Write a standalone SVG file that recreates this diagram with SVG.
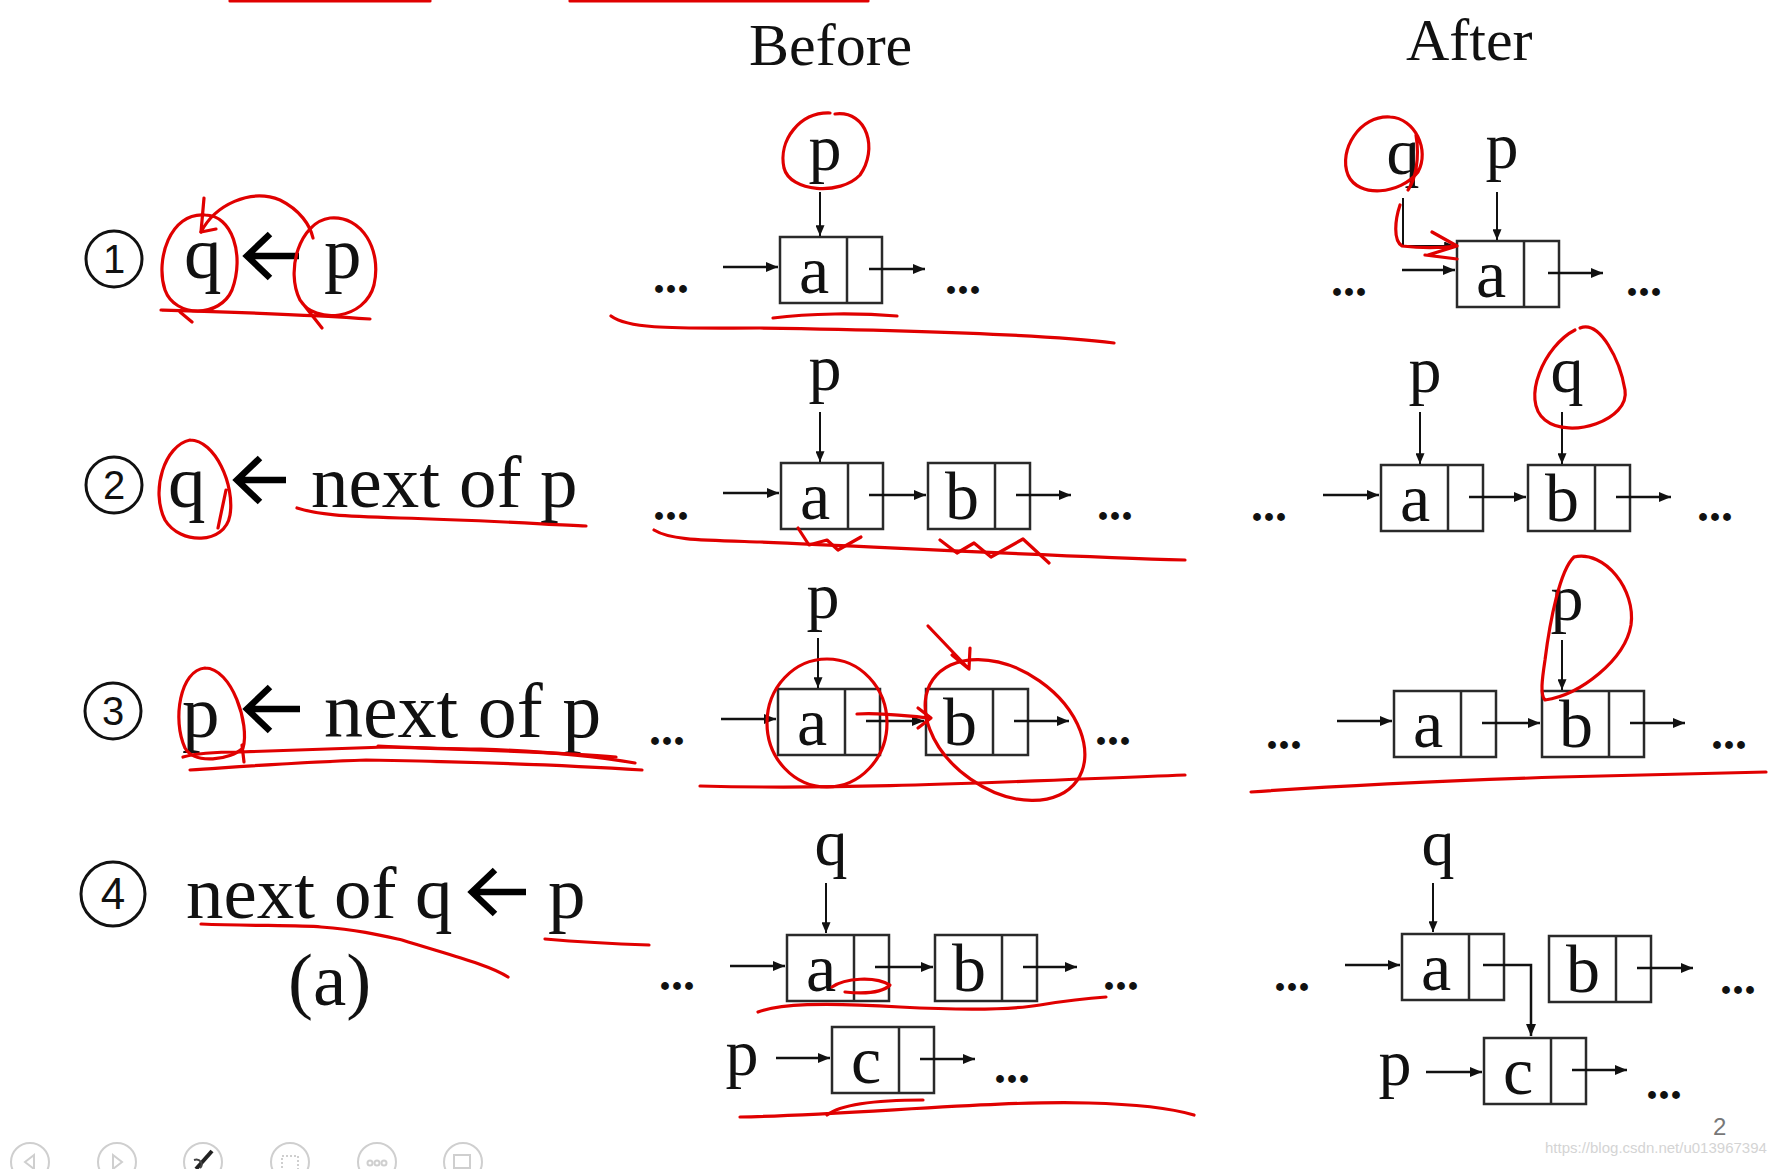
<svg xmlns="http://www.w3.org/2000/svg" width="1792" height="1169" viewBox="0 0 1792 1169">
<defs>
<style>
text{font-family:"Liberation Serif","Times New Roman",serif;fill:#111}
.h{font-size:60px}
.lbl{font-size:66px;text-anchor:middle}
.nd{font-size:68px;text-anchor:middle}
.st{font-size:75px}
.dots{font-size:48px;font-weight:bold}
.cd{font-family:"Liberation Sans",Arial,sans-serif;font-size:40px;text-anchor:middle}
.node rect{fill:none;stroke:#2a2a2a;stroke-width:2.5}
.node line{stroke:#2a2a2a;stroke-width:2.5}
.cn{fill:none;stroke:#111;stroke-width:2.5;marker-end:url(#ah)}
.cv{fill:none;stroke:#111;stroke-width:2;marker-end:url(#ahs)}
.ci{fill:none;stroke:#111;stroke-width:3}
.la{fill:none;stroke:#000;stroke-width:6.5;stroke-linecap:butt}
.red{fill:none;stroke:#e00000;stroke-width:3.2;stroke-linecap:round;stroke-linejoin:round}
.tb{fill:none;stroke:#cfcfcf;stroke-width:2}
</style>
<marker id="ah" viewBox="0 0 12 10" refX="12" refY="5" markerWidth="12" markerHeight="10" markerUnits="userSpaceOnUse" orient="auto"><path d="M0,0 L12,5 L0,10 z" fill="#111"/></marker>
<marker id="ahs" viewBox="0 0 12 10" refX="12" refY="5" markerWidth="11" markerHeight="9" markerUnits="userSpaceOnUse" orient="auto"><path d="M0,0 L12,5 L0,10 z" fill="#111"/></marker>
</defs>
<rect width="1792" height="1169" fill="#fff"/>

<!-- headers -->
<text class="h" x="749" y="65">Before</text>
<text class="h" x="1406" y="60">After</text>

<!-- left statements -->
<g id="stmt1">
<circle class="ci" cx="114" cy="259" r="28"/><text class="cd" x="114" y="273">1</text>
<text class="st" x="184" y="278">q</text>
<path class="la" d="M299,256 H250 M270,234 L247,256 L270,278"/>
<text class="st" x="324" y="278">p</text>
</g>
<g id="stmt2">
<circle class="ci" cx="114" cy="485" r="28"/><text class="cd" x="114" y="499">2</text>
<text class="st" x="168" y="507">q</text>
<path class="la" d="M286,480 H240 M260,458 L237,480 L260,502"/>
<text class="st" x="311" y="507">next of p</text>
</g>
<g id="stmt3">
<circle class="ci" cx="113" cy="711" r="28"/><text class="cd" x="113" y="725">3</text>
<text class="st" x="182" y="737">p</text>
<path class="la" d="M300,709 H250 M270,687 L247,709 L270,731"/>
<text class="st" x="324" y="737" style="font-size:78px">next of p</text>
</g>
<g id="stmt4">
<circle class="ci" cx="113" cy="894" r="32"/><text class="cd" x="113" y="909" style="font-size:44px">4</text>
<text class="st" x="186" y="918">next of q</text>
<path class="la" d="M526,892 H475 M495,870 L472,892 L495,914"/>
<text class="st" x="548" y="918">p</text>
<text class="st" x="288" y="1005">(a)</text>
</g>

<!-- nodes -->
<g id="r1b-a" class="node"><rect x="780" y="237" width="102" height="66"/><line x1="847" y1="237" x2="847" y2="303"/><text class="nd" x="814" y="293">a</text></g>
<g id="r1a-a" class="node"><rect x="1457" y="241" width="102" height="66"/><line x1="1524" y1="241" x2="1524" y2="307"/><text class="nd" x="1491" y="297">a</text></g>

<g id="r2b-a" class="node"><rect x="781" y="463" width="102" height="66"/><line x1="848" y1="463" x2="848" y2="529"/><text class="nd" x="815" y="519">a</text></g>
<g id="r2b-b" class="node"><rect x="928" y="463" width="102" height="66"/><line x1="995" y1="463" x2="995" y2="529"/><text class="nd" x="962" y="519">b</text></g>
<g id="r2a-a" class="node"><rect x="1381" y="465" width="102" height="66"/><line x1="1448" y1="465" x2="1448" y2="531"/><text class="nd" x="1415" y="521">a</text></g>
<g id="r2a-b" class="node"><rect x="1528" y="465" width="102" height="66"/><line x1="1595" y1="465" x2="1595" y2="531"/><text class="nd" x="1562" y="521">b</text></g>

<g id="r3b-a" class="node"><rect x="778" y="689" width="102" height="66"/><line x1="845" y1="689" x2="845" y2="755"/><text class="nd" x="812" y="745">a</text></g>
<g id="r3b-b" class="node"><rect x="926" y="689" width="102" height="66"/><line x1="993" y1="689" x2="993" y2="755"/><text class="nd" x="960" y="745">b</text></g>
<g id="r3a-a" class="node"><rect x="1394" y="691" width="102" height="66"/><line x1="1461" y1="691" x2="1461" y2="757"/><text class="nd" x="1428" y="747">a</text></g>
<g id="r3a-b" class="node"><rect x="1542" y="691" width="102" height="66"/><line x1="1609" y1="691" x2="1609" y2="757"/><text class="nd" x="1576" y="747">b</text></g>

<g id="r4b-a" class="node"><rect x="787" y="935" width="102" height="66"/><line x1="854" y1="935" x2="854" y2="1001"/><text class="nd" x="821" y="991">a</text></g>
<g id="r4b-b" class="node"><rect x="935" y="935" width="102" height="66"/><line x1="1002" y1="935" x2="1002" y2="1001"/><text class="nd" x="969" y="991">b</text></g>
<g id="r4b-c" class="node"><rect x="832" y="1027" width="102" height="66"/><line x1="899" y1="1027" x2="899" y2="1093"/><text class="nd" x="866" y="1083">c</text></g>
<g id="r4a-a" class="node"><rect x="1402" y="934" width="102" height="66"/><line x1="1469" y1="934" x2="1469" y2="1000"/><text class="nd" x="1436" y="990">a</text></g>
<g id="r4a-b" class="node"><rect x="1549" y="936" width="102" height="66"/><line x1="1616" y1="936" x2="1616" y2="1002"/><text class="nd" x="1583" y="992">b</text></g>
<g id="r4a-c" class="node"><rect x="1484" y="1038" width="102" height="66"/><line x1="1551" y1="1038" x2="1551" y2="1104"/><text class="nd" x="1518" y="1094">c</text></g>

<!-- pointer labels and dots -->
<g id="labels">
<text class="lbl" x="825" y="170">p</text>
<text class="lbl" x="1502" y="168">p</text>
<text class="lbl" x="1403" y="174">q</text>
<text class="lbl" x="825" y="390">p</text>
<text class="lbl" x="1425" y="392">p</text>
<text class="lbl" x="1567" y="392">q</text>
<text class="lbl" x="823" y="618">p</text>
<text class="lbl" x="1567" y="620">p</text>
<text class="lbl" x="831" y="865">q</text>
<text class="lbl" x="742" y="1075">p</text>
<text class="lbl" x="1438" y="865">q</text>
<text class="lbl" x="1395" y="1085">p</text>
</g>
<g id="dots">
<text class="dots" x="653" y="293">...</text><text class="dots" x="945" y="294">...</text>
<text class="dots" x="1331" y="296">...</text><text class="dots" x="1626" y="296">...</text>
<text class="dots" x="653" y="520">...</text><text class="dots" x="1097" y="520">...</text>
<text class="dots" x="1251" y="521">...</text><text class="dots" x="1697" y="521">...</text>
<text class="dots" x="649" y="745">...</text><text class="dots" x="1095" y="745">...</text>
<text class="dots" x="1266" y="749">...</text><text class="dots" x="1711" y="749">...</text>
<text class="dots" x="659" y="990">...</text><text class="dots" x="1103" y="990">...</text><text class="dots" x="994" y="1083">...</text>
<text class="dots" x="1274" y="991">...</text><text class="dots" x="1720" y="994">...</text><text class="dots" x="1646" y="1099">...</text>
</g>

<!-- connectors -->
<g id="connectors">
<path class="cn" d="M723,267 H778"/><path class="cn" d="M869,269 H925"/><path class="cv" d="M820,192 V236"/>
<path class="cn" d="M1402,270 H1455"/><path class="cn" d="M1548,273 H1603"/><path class="cv" d="M1497,192 V240"/><path class="cv" d="M1403,198 V246 H1455"/>
<path class="cn" d="M723,493 H779"/><path class="cn" d="M869,495 H926"/><path class="cn" d="M1016,495 H1071"/><path class="cv" d="M820,412 V462"/>
<path class="cn" d="M1323,495 H1379"/><path class="cn" d="M1469,497 H1526"/><path class="cn" d="M1616,497 H1671"/><path class="cv" d="M1420,412 V464"/><path class="cv" d="M1562,412 V464"/>
<path class="cn" d="M721,719 H776"/><path class="cn" d="M866,721 H924"/><path class="cn" d="M1014,721 H1069"/><path class="cv" d="M818,638 V688"/>
<path class="cn" d="M1337,721 H1392"/><path class="cn" d="M1482,723 H1540"/><path class="cn" d="M1630,723 H1685"/><path class="cv" d="M1562,640 V690"/>
<path class="cn" d="M730,966 H785"/><path class="cn" d="M875,967 H933"/><path class="cn" d="M1023,967 H1077"/><path class="cv" d="M826,883 V933"/><path class="cn" d="M776,1058 H830"/><path class="cn" d="M920,1059 H975"/>
<path class="cn" d="M1345,965 H1400"/><path class="cn" d="M1483,965 H1531 V1036"/><path class="cn" d="M1637,968 H1693"/><path class="cv" d="M1433,883 V932"/><path class="cn" d="M1426,1072 H1482"/><path class="cn" d="M1572,1070 H1627"/>
</g>

<!-- red annotations -->
<g id="annotations" class="red">
<path d="M230,1 H430 M570,1 H868"/>
<path d="M205,215 C170,212 155,260 165,290 C175,318 220,318 232,290 C245,255 232,215 205,215"/>
<path d="M204,198 L201,232 L216,229"/>
<path d="M201,232 C215,205 250,188 280,200 C300,210 310,225 313,238"/>
<path d="M330,218 C300,222 285,270 300,300 C315,325 365,320 374,285 C382,250 362,215 330,218 M300,300 L322,328 M180,312 L192,322"/>
<path d="M161,310 C230,312 300,314 370,319"/>
<path d="M830,113 C800,112 778,140 784,168 C790,192 840,196 860,175 C878,150 868,110 835,114"/>
<path d="M773,318 C810,313 860,313 897,316"/>
<path d="M611,316 C630,330 680,328 760,328 C900,330 1050,335 1114,343"/>
<path d="M1390,117 C1360,115 1338,150 1348,175 C1358,198 1400,195 1418,172 C1430,150 1415,118 1390,117 M1416,135 C1420,160 1415,180 1408,190"/>
<path d="M1400,205 C1395,220 1393,240 1402,246 C1420,248 1440,248 1457,246 M1432,232 L1457,246 L1428,255 M1425,255 L1457,259"/>
<path d="M190,440 C165,445 150,490 165,520 C180,545 225,545 230,515 C235,485 215,440 190,440 M226,490 L218,528"/>
<path d="M297,508 C320,515 340,516 400,518 C480,520 540,524 586,526"/>
<path d="M654,530 C670,540 700,540 760,542 C900,548 1050,556 1185,560"/>
<path d="M798,528 L809,545 L827,540 L838,550 L861,537"/>
<path d="M940,540 L957,553 L974,543 L991,557 L1023,539 L1049,563"/>
<path d="M1575,330 C1545,345 1520,400 1545,420 C1570,440 1630,420 1625,390 C1620,360 1600,320 1580,328"/>
<path d="M205,668 C180,670 172,720 185,748 C195,765 230,760 243,748 C250,725 232,668 205,668 M242,745 L244,762"/>
<path d="M183,757 C200,752 230,752 240,752 L386,747 C480,750 560,752 616,757"/>
<path d="M190,770 C250,766 300,762 366,760 C480,762 580,766 642,770"/>
<path d="M378,746 C420,748 470,749 481,749 C560,752 600,757 635,763"/>
<ellipse cx="827" cy="723" rx="60" ry="64"/>
<ellipse cx="1005" cy="730" rx="88" ry="60" transform="rotate(35 1005 730)"/>
<path d="M928,626 L969,669 M952,655 L969,669 L970,648"/>
<path d="M857,714 C880,712 905,716 931,718 M918,708 L931,718 L918,728"/>
<path d="M700,786 C850,790 1000,782 1185,775"/>
<path d="M1574,557 C1560,570 1550,620 1545,660 C1542,680 1540,695 1545,700 C1580,695 1625,660 1631,625 C1636,590 1605,550 1574,557"/>
<path d="M1251,792 C1350,785 1471,780 1560,777 C1650,775 1720,773 1766,772"/>
<path d="M201,924 C250,926 300,925 321,927 C360,930 380,935 402,940 C450,955 490,965 508,977"/>
<path d="M545,939 C580,942 620,944 649,945"/>
<path d="M832,987 C845,978 875,976 890,985 C880,995 855,993 845,992"/>
<path d="M758,1012 C780,1004 820,1002 900,1007 C960,1010 1010,1010 1040,1005 C1070,1000 1090,998 1106,997"/>
<path d="M827,1115 C840,1105 870,1100 923,1100"/>
<path d="M740,1117 C850,1115 1000,1100 1089,1103 C1130,1104 1170,1108 1194,1115"/>
</g>

<!-- slide footer -->
<text x="1713" y="1135" style="font-family:'Liberation Sans',Arial,sans-serif;font-size:24px;fill:#777">2</text>
<text x="1545" y="1153" style="font-family:'Liberation Sans',Arial,sans-serif;font-size:15px;fill:#d4d4d4">https://blog.csdn.net/u013967394</text>
<g id="toolbar">
<circle class="tb" cx="30" cy="1162" r="19"/><path class="tb" d="M34,1155 L25,1162 L34,1169 z"/>
<circle class="tb" cx="117" cy="1162" r="19"/><path class="tb" d="M113,1155 L122,1162 L113,1169 z"/>
<circle class="tb" cx="203" cy="1162" r="19"/><path d="M196,1169 L212,1151" stroke="#222" stroke-width="4" fill="none"/><path d="M194,1160 C200,1158 204,1164 200,1168" stroke="#444" stroke-width="2" fill="none"/>
<circle class="tb" cx="290" cy="1162" r="19"/><path class="tb" d="M282,1156 H298 V1170 H282 z" stroke-dasharray="2 2"/>
<circle class="tb" cx="377" cy="1162" r="19"/><circle class="tb" cx="370" cy="1163" r="2.5"/><circle class="tb" cx="377" cy="1163" r="2.5"/><circle class="tb" cx="384" cy="1163" r="2.5"/>
<circle class="tb" cx="463" cy="1162" r="19"/><path class="tb" d="M454,1155 H470 V1168 H454 z"/>
</g>
</svg>
